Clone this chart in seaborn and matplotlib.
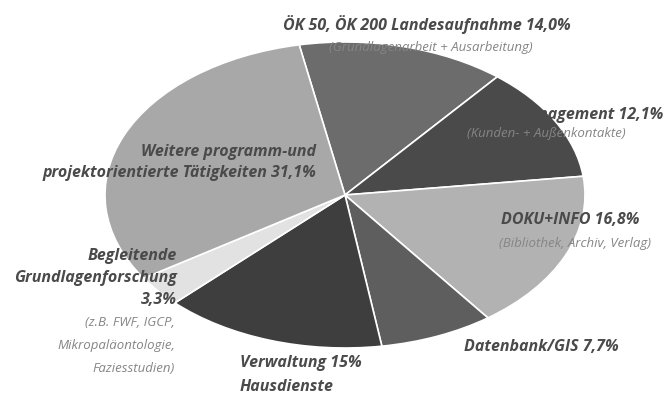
import matplotlib.pyplot as plt
import seaborn as sns

# slices, clockwise from the top
segments = ['ÖK 50, ÖK 200 Landesaufnahme', 'Proj.-Management', 'DOKU+INFO', 'Datenbank/GIS',
            'Verwaltung', 'Begleitende Grundlagenforschung', 'Weitere programm-und projektorientierte Tätigkeiten']
shares = [14.0, 12.1, 16.8, 7.7, 15.0, 3.3, 31.1]
grays = ['#6c6c6c', '#4a4a4a', '#b2b2b2', '#5e5e5e', '#3e3e3e', '#e2e2e2', '#a8a8a8']

sns.set_theme(style='white')
plt.rcParams['font.family'] = ['Open Sans', 'DejaVu Sans']

fig = plt.figure(figsize=(6.7, 4.04), dpi=100)
ax = fig.add_axes([0, 0, 1, 1])
ax.pie(shares, colors=grays, startangle=101, counterclock=False, radius=1,
       wedgeprops={'edgecolor': 'white', 'linewidth': 1.2})
ax.set_aspect('auto')
# pixel frame: centre (345, 195), semi-axes 240 x 153
cx, cy, rx, ry = 345, 195, 240, 153
ax.set_xlim((0 - cx) / rx, (670 - cx) / rx)
ax.set_ylim((cy - 404) / ry, (cy - 0) / ry)
ax.axis('off')


def px(x, y):
    return (x - cx) / rx, (cy - y) / ry


main = dict(fontsize=11.5, fontweight='bold', fontstyle='italic', color='#4a4a4a', va='center')
sub = dict(fontsize=9.5, fontstyle='italic', color='#858585', va='center')

ax.text(*px(283, 25), 'ÖK 50, ÖK 200 Landesaufnahme 14,0%', ha='left', **main)
ax.text(*px(533, 47), '(Grundlagenarbeit + Ausarbeitung)', ha='right', **sub)
ax.text(*px(663, 115), 'Proj.-Management 12,1%', ha='right', **main)
ax.text(*px(626, 134), '(Kunden- + Außenkontakte)', ha='right', **sub)
ax.text(*px(316, 152), 'Weitere programm-und', ha='right', **main)
ax.text(*px(316, 173), 'projektorientierte Tätigkeiten 31,1%', ha='right', **main)
ax.text(*px(501, 220), 'DOKU+INFO 16,8%', ha='left', **main)
ax.text(*px(499, 243), '(Bibliothek, Archiv, Verlag)', ha='left', **sub)
ax.text(*px(177, 256), 'Begleitende', ha='right', **main)
ax.text(*px(177, 278), 'Grundlagenforschung', ha='right', **main)
ax.text(*px(177, 300), '3,3%', ha='right', **main)
ax.text(*px(175, 323), '(z.B. FWF, IGCP,', ha='right', **sub)
ax.text(*px(175, 346), 'Mikropaläontologie,', ha='right', **sub)
ax.text(*px(175, 368), 'Faziesstudien)', ha='right', **sub)
ax.text(*px(464, 347), 'Datenbank/GIS 7,7%', ha='left', **main)
ax.text(*px(240, 363), 'Verwaltung 15%', ha='left', **main)
ax.text(*px(240, 387), 'Hausdienste', ha='left', **main)

fig.savefig('out.png', dpi=100, facecolor='white')
